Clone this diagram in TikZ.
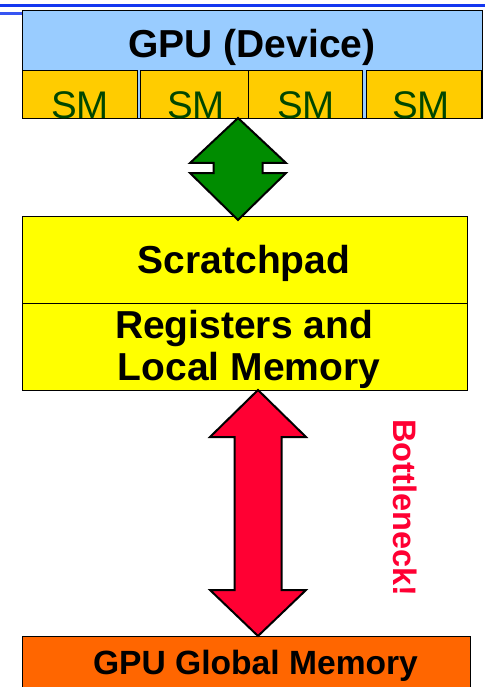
\documentclass[tikz,border=0pt]{standalone}
\usepackage{fontspec}
\setmainfont{Liberation Sans}
\definecolor{rulebl}{RGB}{20,55,240}
\definecolor{devblue}{RGB}{153,204,255}
\definecolor{smgold}{RGB}{255,204,0}
\definecolor{smtext}{RGB}{0,70,0}
\definecolor{padyel}{RGB}{255,255,0}
\definecolor{globorange}{RGB}{255,102,0}
\definecolor{arrgreen}{RGB}{0,140,0}
\definecolor{arrred}{RGB}{255,0,51}
\tikzset{
  box/.style={draw=black, line width=1.4pt},
  blockarrow/.style={draw=black, line width=2pt, line join=miter},
  bigbold/.style={font=\fontsize{39}{42}\selectfont\bfseries, text=black, inner sep=0pt, anchor=base},
  smlabel/.style={font=\fontsize{38.5}{40}\selectfont, text=smtext, inner sep=0pt, anchor=base},
}
\begin{document}
\begin{tikzpicture}[x=1pt,y=-1pt]
  \useasboundingbox (0,0) rectangle (489,687);
  % header rules
  \fill[rulebl] (0,4) rectangle (485,7.5);
  \fill[rulebl!85!white] (0,12) rectangle (22,15);

  % device block with its SM cells
  \node[box, fill=devblue, minimum width=460pt, minimum height=108pt, inner sep=0pt, anchor=north west] (gpu) at (22,10) {};
  \node[box, fill=smgold, minimum width=115pt, minimum height=48pt, inner sep=0pt, anchor=north west] (sm1) at (22,70) {};
  \node[box, fill=smgold, minimum width=108pt, minimum height=48pt, inner sep=0pt, anchor=north west] (sm2) at (140,70) {};
  \node[box, fill=smgold, minimum width=114pt, minimum height=48pt, inner sep=0pt, anchor=north west] (sm3) at (248,70) {};
  \node[box, fill=smgold, minimum width=115pt, minimum height=48pt, inner sep=0pt, anchor=north west] (sm4) at (366,70) {};
  \node[bigbold] (gpulbl) at (252,58) {GPU (Device)};
  \node[smlabel] (sm1lbl) at (80,119) {SM};
  \node[smlabel] (sm2lbl) at (196,119) {SM};
  \node[smlabel] (sm3lbl) at (306,119) {SM};
  \node[smlabel] (sm4lbl) at (421,119) {SM};

  % on-chip memory block
  \node[box, fill=padyel, minimum width=445pt, minimum height=87pt, inner sep=0pt, anchor=north west] (pad) at (22,216) {};
  \node[box, fill=padyel, minimum width=445pt, minimum height=87pt, inner sep=0pt, anchor=north west] (regs) at (22,303) {};
  \node[bigbold] (padlbl) at (244,273) {Scratchpad};
  \node[bigbold] (regslbl1) at (244,338) {Registers and};
  \node[bigbold] (regslbl2) at (249,380) {Local Memory};

  % global memory block
  \node[box, fill=globorange, minimum width=448pt, minimum height=60pt, inner sep=0pt, anchor=north west] (glob) at (22,636) {};
  \node[font=\fontsize{33.6}{35}\selectfont\bfseries, inner sep=0pt, anchor=base] (globlbl) at (255.5,674) {GPU Global Memory};

  % end points of the two block arrows
  \coordinate (gtop) at (238,118);
  \coordinate (gbot) at (238,220);
  \coordinate (rtop) at (258,390);
  \coordinate (rbot) at (258,636);

  % green double arrow: SMs <-> scratchpad
  \draw[blockarrow, fill=arrgreen] (gtop) -- ++(-48,45) -- ++(23.5,0) -- ++(0,10) -- ++(-23.5,0)
    -- (gbot) -- ++(48,-47) -- ++(-23.5,0) -- ++(0,-10) -- ++(23.5,0) -- cycle;

  % red double arrow: registers <-> global memory
  \draw[blockarrow, fill=arrred] (rtop) -- ++(-48,47) -- ++(24.5,0) -- ++(0,153) -- ++(-24.5,0)
    -- (rbot) -- ++(48,-46) -- ++(-24.5,0) -- ++(0,-153) -- ++(24.5,0) -- cycle;

  \node[font=\fontsize{32.5}{34}\selectfont\bfseries, text=arrred, rotate=-90, inner sep=0pt] (neck) at (405,508) {Bottleneck!};
\end{tikzpicture}
\end{document}
